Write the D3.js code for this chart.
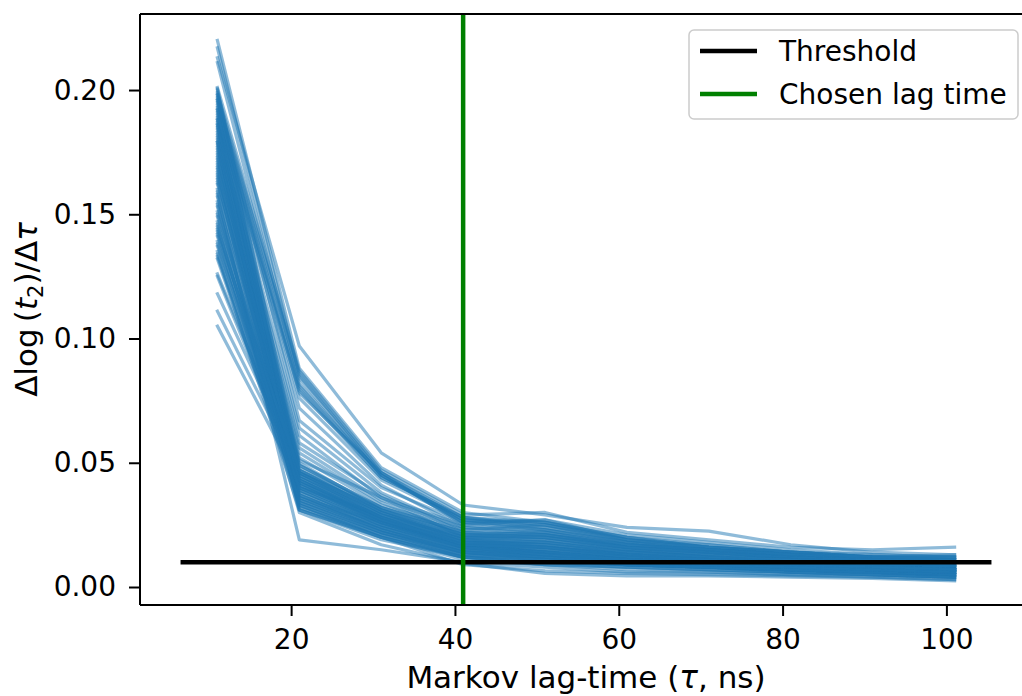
<!DOCTYPE html>
<html>
<head>
<meta charset="utf-8">
<script src="https://cdn.jsdelivr.net/npm/d3@7"></script>
<style>
  body { margin: 0; background: #fff; }
  svg { display: block; font-family: "DejaVu Sans", sans-serif; }
</style>
</head>
<body>
<div id="chart"></div>
<script>
// lag times (ns) at which each estimate was made
const lagTimes = [11, 21, 31, 41, 51, 61, 71, 81, 91, 101];

// one row per bootstrap run: d log(t2) / d tau at each lag time
const runs = [
  [.220, .088, .048, .030, .026, .020, .016, .013, .011, .010],
  [.217, .085, .046, .028, .025, .019, .015, .012, .010, .009],
  [.213, .097, .054, .033, .029, .024, .0225, .017, .014, .013],
  [.211, .082, .045, .027, .023, .018, .014, .012, .011, .0095],
  [.201, .087, .047, .029, .030, .022, .019, .016, .015, .016],
  [.199, .084, .045, .026, .027, .021, .018, .015, .013, .012],
  [.197, .080, .044, .028, .024, .019, .017, .014, .012, .011],
  [.195, .078, .046, .025, .022, .017, .015, .013, .011, .010],
  [.193, .076, .043, .027, .026, .020, .016, .014, .013, .012],
  [.190, .072, .041, .024, .021, .017, .014, .012, .010, .009],
  [.196, .086, .046, .027, .025, .020, .017, .014, .012, .011],
  [.192, .081, .045, .026, .023, .018, .015, .013, .011, .010],
  [.188, .079, .044, .028, .026, .019, .016, .014, .012, .011],
  [.198, .067, .040, .026, .024, .018, .015, .013, .012, .011],
  [.188, .064, .038, .023, .022, .016, .014, .012, .011, .010],
  [.185, .061, .036, .025, .027, .019, .016, .014, .012, .013],
  [.182, .058, .037, .022, .020, .015, .013, .011, .010, .008],
  [.179, .056, .035, .024, .023, .017, .015, .013, .011, .010],
  [.176, .054, .034, .021, .019, .015, .012, .010, .009, .008],
  [.172, .052, .033, .023, .025, .018, .016, .014, .012, .012],
  [.169, .051, .036, .020, .018, .014, .012, .010, .009, .007],
  [.166, .049, .032, .022, .021, .016, .014, .012, .011, .010],
  [.163, .050, .031, .019, .017, .013, .011, .009, .008, .007],
  [.200, .047, .030, .018, .016, .013, .011, .009, .008, .007],
  [.196, .045, .029, .020, .019, .015, .013, .011, .010, .009],
  [.194, .043, .028, .017, .014, .011, .010, .008, .007, .006],
  [.192, .046, .031, .021, .020, .016, .014, .012, .011, .010],
  [.189, .041, .027, .016, .013, .011, .009, .008, .007, .006],
  [.187, .044, .030, .019, .017, .014, .012, .010, .009, .008],
  [.186, .039, .025, .015, .012, .010, .009, .007, .006, .005],
  [.184, .042, .028, .018, .018, .014, .012, .010, .009, .009],
  [.183, .038, .024, .014, .011, .009, .008, .007, .006, .005],
  [.181, .036, .026, .017, .015, .012, .010, .009, .008, .007],
  [.180, .044, .027, .016, .014, .012, .010, .009, .008, .007],
  [.178, .034, .022, .013, .010, .009, .008, .006, .006, .004],
  [.177, .040, .029, .019, .018, .015, .013, .011, .010, .010],
  [.175, .037, .023, .014, .012, .010, .009, .008, .007, .006],
  [.174, .033, .021, .012, .009, .008, .007, .006, .005, .004],
  [.171, .046, .030, .020, .021, .016, .014, .012, .011, .011],
  [.170, .035, .024, .015, .013, .011, .010, .008, .007, .006],
  [.168, .032, .020, .009, .0065, .0055, .005, .0045, .004, .003],
  [.167, .041, .026, .017, .016, .013, .011, .010, .009, .008],
  [.165, .031, .019, .012, .010, .009, .008, .006, .005, .004],
  [.162, .043, .028, .018, .017, .013, .012, .010, .009, .008],
  [.160, .038, .025, .016, .014, .011, .010, .009, .008, .007],
  [.158, .019, .015, .010, .008, .006, .006, .005, .004, .003],
  [.157, .034, .022, .014, .011, .009, .008, .007, .006, .005],
  [.155, .045, .029, .020, .019, .015, .013, .011, .010, .009],
  [.153, .036, .023, .013, .011, .009, .008, .007, .006, .005],
  [.151, .040, .026, .016, .015, .012, .011, .009, .008, .008],
  [.149, .032, .021, .012, .009, .008, .007, .006, .005, .004],
  [.147, .042, .027, .018, .016, .013, .011, .010, .009, .008],
  [.145, .037, .024, .015, .013, .011, .009, .008, .007, .006],
  [.143, .030, .017, .0095, .0055, .0045, .0045, .004, .0035, .0025],
  [.141, .039, .025, .017, .015, .012, .010, .009, .008, .007],
  [.139, .035, .022, .013, .012, .010, .009, .007, .006, .005],
  [.137, .044, .028, .019, .018, .014, .012, .011, .010, .009],
  [.135, .033, .020, .012, .010, .008, .007, .006, .005, .004],
  [.133, .041, .026, .016, .014, .011, .010, .009, .008, .007],
  [.132, .036, .023, .014, .012, .009, .008, .007, .006, .005],
  [.126, .046, .028, .017, .014, .012, .010, .009, .008, .007],
  [.125, .043, .027, .016, .013, .010, .009, .008, .007, .006],
  [.118, .047, .030, .019, .016, .013, .011, .010, .009, .008],
  [.111, .045, .029, .018, .015, .012, .010, .009, .008, .007],
  [.105, .042, .026, .015, .012, .010, .009, .008, .007, .006],
  [.2005, .049, .032, .021, .022, .017, .015, .013, .012, .012],
  [.198, .040, .026, .016, .014, .011, .010, .009, .008, .007],
  [.191, .035, .023, .014, .013, .010, .009, .008, .007, .006],
  [.186, .048, .031, .020, .020, .016, .013, .012, .011, .010],
  [.179, .031, .020, .012, .011, .009, .008, .007, .006, .005],
  [.173, .042, .027, .017, .016, .013, .011, .010, .009, .009],
  [.164, .037, .024, .015, .014, .011, .009, .008, .007, .006],
  [.159, .046, .031, .021, .020, .016, .014, .012, .011, .011],
  [.154, .033, .021, .013, .011, .009, .008, .007, .006, .005],
  [.150, .043, .028, .017, .016, .012, .011, .010, .009, .009],
  [.146, .034, .022, .014, .012, .010, .009, .008, .007, .006],
  [.142, .047, .032, .022, .021, .017, .015, .013, .012, .012],
  [.138, .039, .025, .016, .013, .011, .010, .009, .008, .007],
  [.134, .031, .020, .011, .009, .007, .006, .005, .005, .004],
  [.144, .040, .027, .018, .017, .014, .012, .011, .010, .010]
];

const threshold = 0.01;
const thresholdSpan = [6.5, 105.5];
const chosenLag = 41;

const xTicks = [20, 40, 60, 80, 100];
const yTicks = [0.00, 0.05, 0.10, 0.15, 0.20];
const legendItems = [
  { label: 'Threshold', color: '#000000' },
  { label: 'Chosen lag time', color: '#008000' }
];

const width = 1022;
const height = 696;
const margin = { left: 140, top: 14, right: -10, bottom: 91 };

const svg = d3.select('#chart')
  .append('svg')
  .attr('width', width)
  .attr('height', height);

const x = d3.scaleLinear()
  .domain([1.55, 110.45])
  .range([margin.left, width - margin.right]);

const y = d3.scaleLinear()
  .domain([-0.00724, 0.2306])
  .range([height - margin.bottom, margin.top]);

svg.append('clipPath')
  .attr('id', 'plot-clip')
  .append('rect')
  .attr('x', margin.left)
  .attr('y', margin.top)
  .attr('width', width - margin.right - margin.left)
  .attr('height', height - margin.bottom - margin.top);

const plot = svg.append('g').attr('clip-path', 'url(#plot-clip)');

const line = d3.line()
  .x((d, i) => x(lagTimes[i]))
  .y(d => y(d));

// bootstrap curves
plot.selectAll('path.run')
  .data(runs)
  .enter()
  .append('path')
  .attr('class', 'run')
  .attr('d', line)
  .attr('fill', 'none')
  .attr('stroke', '#1f77b4')
  .attr('stroke-opacity', 0.5)
  .attr('stroke-width', 3.2)
  .attr('stroke-linejoin', 'round')
  .attr('stroke-linecap', 'square');

// threshold
plot.append('line')
  .attr('x1', x(thresholdSpan[0]))
  .attr('x2', x(thresholdSpan[1]))
  .attr('y1', y(threshold))
  .attr('y2', y(threshold))
  .attr('stroke', '#000')
  .attr('stroke-width', 4.5);

// chosen lag time
plot.append('line')
  .attr('x1', x(chosenLag))
  .attr('x2', x(chosenLag))
  .attr('y1', margin.top)
  .attr('y2', height - margin.bottom)
  .attr('stroke', '#008000')
  .attr('stroke-width', 4.5);

// axes
const xAxis = svg.append('g')
  .attr('transform', `translate(0,${height - margin.bottom})`)
  .call(d3.axisBottom(x).tickValues(xTicks).tickSize(11).tickPadding(13).tickFormat(d3.format('d')));

const yAxis = svg.append('g')
  .attr('transform', `translate(${margin.left},0)`)
  .call(d3.axisLeft(y).tickValues(yTicks).tickSize(11).tickPadding(13).tickFormat(d3.format('.2f')));

[xAxis, yAxis].forEach(g => {
  g.attr('font-size', 28).attr('font-family', 'DejaVu Sans');
  g.selectAll('text').attr('fill', '#000');
  g.selectAll('line').attr('stroke', '#000').attr('stroke-width', 2);
  g.select('.domain').attr('stroke', '#000').attr('stroke-width', 2);
});
yAxis.select('.domain').attr('d', `M0,${margin.top}V${height - margin.bottom}`);
xAxis.select('.domain').attr('d', `M${margin.left},0H${width + 20}`);

// top spine
svg.append('line')
  .attr('x1', margin.left)
  .attr('x2', width)
  .attr('y1', margin.top)
  .attr('y2', margin.top)
  .attr('stroke', '#000')
  .attr('stroke-width', 2);

// axis labels
const xLabel = svg.append('text')
  .attr('x', (x.range()[0] + x.range()[1]) / 2)
  .attr('y', 688)
  .attr('text-anchor', 'middle')
  .attr('font-size', 31);
xLabel.append('tspan').text('Markov lag-time (');
xLabel.append('tspan').attr('font-style', 'italic').text('τ');
xLabel.append('tspan').text(', ns)');

const yLabel = svg.append('text')
  .attr('transform', `translate(37,${(margin.top + height - margin.bottom) / 2}) rotate(-90)`)
  .attr('text-anchor', 'middle')
  .attr('font-size', 31);
yLabel.append('tspan').text('Δlog\u2009(');
yLabel.append('tspan').attr('font-style', 'italic').text('t');
yLabel.append('tspan').attr('font-size', 21).attr('dy', 6).text('2');
yLabel.append('tspan').attr('dy', -6).text(')/Δ');
yLabel.append('tspan').attr('font-style', 'italic').text('τ');

// legend
const legend = svg.append('g').attr('transform', 'translate(689,30)');
legend.append('rect')
  .attr('width', 329)
  .attr('height', 89)
  .attr('rx', 5)
  .attr('fill', '#fff')
  .attr('fill-opacity', 0.8)
  .attr('stroke', '#cccccc')
  .attr('stroke-width', 1.5);

const entries = legend.selectAll('g.entry')
  .data(legendItems)
  .enter()
  .append('g')
  .attr('class', 'entry')
  .attr('transform', (d, i) => `translate(0,${21 + i * 43})`);

entries.append('line')
  .attr('x1', 11)
  .attr('x2', 68)
  .attr('stroke', d => d.color)
  .attr('stroke-width', 4.5);

entries.append('text')
  .attr('x', 90)
  .attr('dy', '0.35em')
  .attr('font-size', 28)
  .text(d => d.label);
</script>
</body>
</html>
